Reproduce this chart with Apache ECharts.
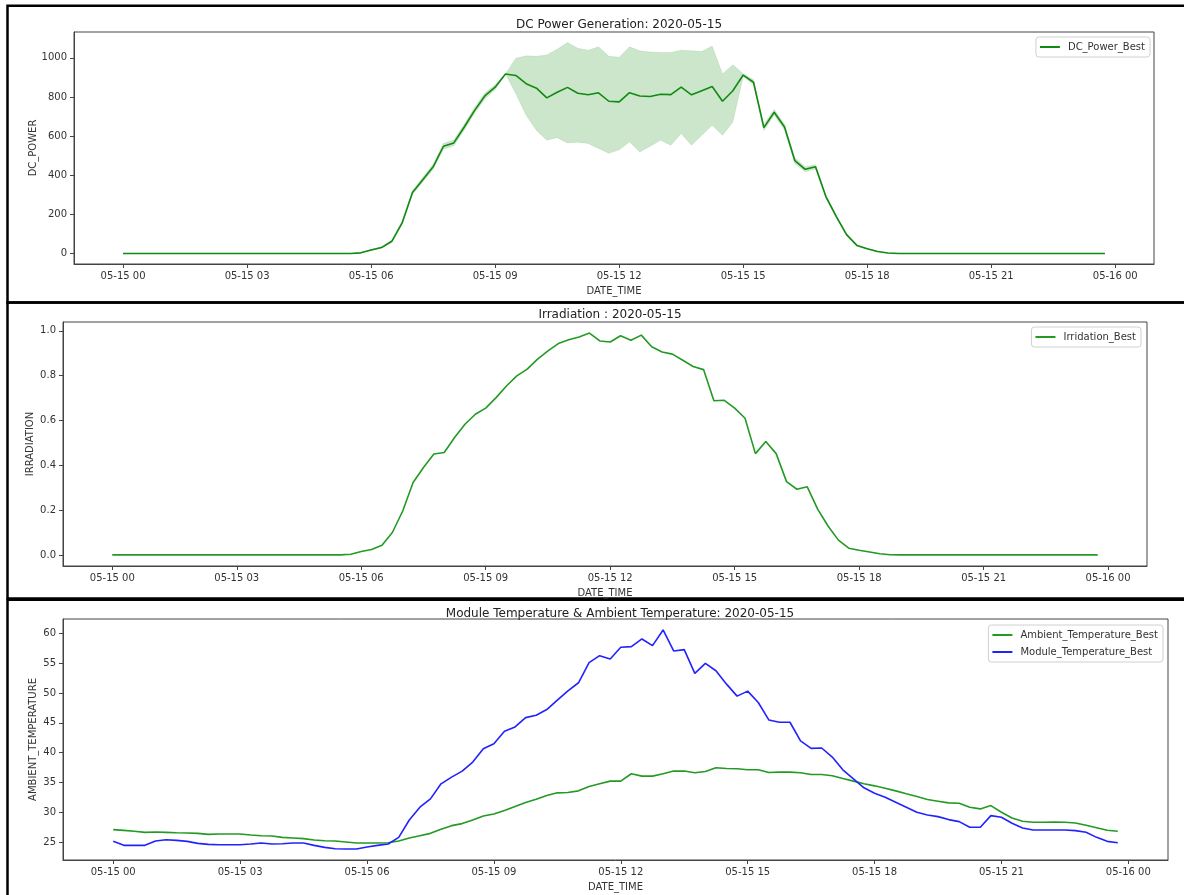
<!DOCTYPE html>
<html><head><meta charset="utf-8">
<script src="https://cdn.jsdelivr.net/npm/echarts@6/dist/echarts.min.js"></script>
<style>html,body{margin:0;padding:0;background:#fff}#c{width:1184px;height:895px}</style>
</head><body><div id="c"></div>
<script>
// ---- data ----
const hours = [0,0.25,0.5,0.75,1,1.25,1.5,1.75,2,2.25,2.5,2.75,3,3.25,3.5,3.75,4,4.25,4.5,4.75,5,5.25,5.5,5.75,6,6.25,6.5,6.75,7,7.25,7.5,7.75,8,8.25,8.5,8.75,9,9.25,9.5,9.75,10,10.25,10.5,10.75,11,11.25,11.5,11.75,12,12.25,12.5,12.75,13,13.25,13.5,13.75,14,14.25,14.5,14.75,15,15.25,15.5,15.75,16,16.25,16.5,16.75,17,17.25,17.5,17.75,18,18.25,18.5,18.75,19,19.25,19.5,19.75,20,20.25,20.5,20.75,21,21.25,21.5,21.75,22,22.25,22.5,22.75,23,23.25,23.5,23.75];

const dcMean = [0,0,0,0,0,0,0,0,0,0, 0,0,0,0,0,0,0,0,0,0, 0,0,0,3,18,30,62,156,311,377, 443,548,565,645,730,805,850,917,910,868, 845,795,824,849,819,811,821,778,775,822, 805,802,814,812,850,811,832,853,778,832, 912,875,643,722,646,474,430,443,291,190, 96,41,24,10,2,0,0,0,0,0, 0,0,0,0,0,0,0,0,0,0, 0,0,0,0,0,0];
const dcLow = [0,0,0,0,0,0,0,0,0,0, 0,0,0,0,0,0,0,0,0,0, 0,0,0,2,15,26,56,148,301,365, 431,533,550,630,715,790,838,917,816,706, 629,579,592,565,569,562,537,512,530,570, 519,548,579,553,613,553,604,655,604,672, 905,862,628,707,631,460,417,432,282,183, 91,38,22,9,2,0,0,0,0,0, 0,0,0,0,0,0,0,0,0,0, 0,0,0,0,0,0];
const dcHigh = [0,0,0,0,0,0,0,0,0,0, 0,0,0,0,0,0,0,0,0,0, 0,0,0,4,21,34,68,164,321,389, 455,563,580,660,745,820,862,917,998,1010, 1008,1015,1044,1078,1049,1039,1056,1008,1003,1056, 1036,1030,1027,1027,1039,1036,1032,1060,917,964, 919,888,658,737,661,488,443,454,300,197, 101,44,26,11,2,0,0,0,0,0, 0,0,0,0,0,0,0,0,0,0, 0,0,0,0,0,0];
const irradiation = [0,0,0,0,0,0,0,0,0,0, 0,0,0,0,0,0,0,0,0,0, 0,0,0,0.003,0.015,0.024,0.043,0.10,0.196,0.323, 0.39,0.45,0.457,0.524,0.583,0.628,0.655,0.702,0.754,0.799, 0.829,0.874,0.911,0.943,0.96,0.973,0.99,0.955,0.95,0.978, 0.958,0.981,0.929,0.906,0.896,0.869,0.841,0.827,0.688,0.69, 0.655,0.61,0.452,0.506,0.452,0.327,0.293,0.304,0.204,0.129, 0.066,0.03,0.021,0.013,0.005,0.001,0,0,0,0, 0,0,0,0,0,0,0,0,0,0, 0,0,0,0,0,0];
const ambientTemp = [27.13,27.0,26.85,26.68,26.74,26.68,26.62,26.57,26.51,26.34, 26.4,26.4,26.4,26.23,26.12,26.06,25.84,25.73,25.62,25.39, 25.28,25.22,25.06,24.89,24.89,24.89,24.94,25.22,25.73,26.12, 26.51,27.18,27.8,28.14,28.75,29.42,29.76,30.32,30.99,31.66, 32.22,32.84,33.29,33.34,33.62,34.35,34.8,35.25,35.25,36.48, 36.09,36.09,36.48,36.93,36.93,36.65,36.87,37.49,37.37,37.32, 37.15,37.15,36.7,36.76,36.76,36.65,36.37,36.37,36.14,35.69, 35.25,34.8,34.46,34.07,33.62,33.12,32.67,32.17,31.89,31.61, 31.55,30.88,30.6,31.16,30.04,29.09,28.53,28.36,28.36,28.42, 28.36,28.25,27.86,27.46,27.02,26.85];
const moduleTemp = [25.17,24.5,24.5,24.5,25.22,25.45,25.34,25.17,24.83,24.66, 24.61,24.61,24.61,24.72,24.89,24.72,24.78,24.89,24.89,24.5, 24.16,23.94,23.88,23.88,24.22,24.5,24.72,25.84,28.75,30.88, 32.28,34.8,35.92,36.93,38.44,40.68,41.52,43.59,44.32,45.88, 46.28,47.23,48.8,50.36,51.71,55.07,56.24,55.68,57.64,57.75, 59.04,57.92,60.55,57.03,57.25,53.28,54.96,53.72,51.48,49.47, 50.31,48.4,45.49,45.1,45.1,41.97,40.73,40.79,39.28,37.15, 35.64,34.13,33.23,32.56,31.72,30.88,30.04,29.59,29.31,28.81, 28.47,27.52,27.52,29.48,29.2,28.19,27.41,27.07,27.07,27.07, 27.07,26.96,26.68,25.84,25.17,24.94];

const xTickValues = [0,3,6,9,12,15,18,21,24];
const xTickLabels = ["05-15 00","05-15 03","05-15 06","05-15 09","05-15 12","05-15 15","05-15 18","05-15 21","05-16 00"];
const dcTickValues = [0,200,400,600,800,1000];
const dcTickLabels = ["0","200","400","600","800","1000"];
const irrTickValues = [0,0.2,0.4,0.6,0.8,1.0];
const irrTickLabels = ["0.0","0.2","0.4","0.6","0.8","1.0"];
const tempTickValues = [25,30,35,40,45,50,55,60];
const tempTickLabels = ["25","30","35","40","45","50","55","60"];

const titles = ["DC Power Generation: 2020-05-15","Irradiation : 2020-05-15","Module Temperature & Ambient Temperature: 2020-05-15"];

// ---- chart ----
const FF = 'DejaVu Sans';
const AX = '#444';
const TXT = '#333';
const pairs = (xs, ys) => xs.map((x, i) => [x, ys[i]]);
const labelOf = (vals, labs) => v => { const k = vals.findIndex(t => Math.abs(t - v) < 1e-9); return k < 0 ? '' : labs[k]; };

const grids = [
  {left: 74, top: 32, width: 1080, height: 232},
  {left: 63, top: 322, width: 1084, height: 244},
  {left: 63, top: 619, width: 1105, height: 241}
];
const yRanges = [[-54, 1132], [-0.0495, 1.0395], [22.05, 62.38]];
const yTicks = [[dcTickValues, dcTickLabels], [irrTickValues, irrTickLabels], [tempTickValues, tempTickLabels]];
const yNames = ["DC_POWER", "IRRADIATION", "AMBIENT_TEMPERATURE"];
const yNameGaps = [36, 28, 25];

function xAxisFor(i) {
  return {
    type: 'value', gridIndex: i, min: -1.1875, max: 24.9375,
    name: 'DATE_TIME', nameLocation: 'middle', nameGap: 22, nameMoveOverlap: false,
    nameTextStyle: {fontSize: 10, color: TXT, fontFamily: FF},
    axisLine: {show: true, onZero: false, lineStyle: {color: AX, width: 1}},
    splitLine: {show: false},
    axisTick: {show: true, inside: false, length: 4, lineStyle: {color: AX}, customValues: xTickValues},
    axisLabel: {show: true, margin: 7, fontSize: 10, color: TXT, fontFamily: FF, customValues: xTickValues,
      formatter: labelOf(xTickValues, xTickLabels)}
  };
}
function yAxisFor(i) {
  const [vals, labs] = yTicks[i];
  return {
    type: 'value', gridIndex: i, min: yRanges[i][0], max: yRanges[i][1],
    name: yNames[i], nameLocation: 'middle', nameGap: yNameGaps[i], nameRotate: 90, nameMoveOverlap: false,
    nameTextStyle: {fontSize: 10, color: TXT, fontFamily: FF},
    axisLine: {show: true, onZero: false, lineStyle: {color: AX, width: 1}},
    splitLine: {show: false},
    axisTick: {show: true, inside: false, length: 4, lineStyle: {color: AX}, customValues: vals},
    axisLabel: {show: true, margin: 7, fontSize: 10, color: TXT, fontFamily: FF, customValues: vals,
      formatter: labelOf(vals, labs)}
  };
}
const legendBase = {
  icon: 'rect', itemWidth: 20, itemHeight: 2, orient: 'vertical', itemGap: 5,
  padding: [4, 5, 4, 4], borderColor: '#d0d0d0', borderWidth: 1, borderRadius: 3,
  backgroundColor: 'rgba(255,255,255,0.8)',
  textStyle: {fontSize: 10, color: TXT, fontFamily: FF, lineHeight: 12, padding: [0, 0, 0, 3]}
};
const lineBase = {type: 'line', symbol: 'none', showSymbol: false, animation: false};

// confidence band drawn as one polygon through the axis scales
function renderBand(params, api) {
  if (params.dataIndex !== 0) return null;
  const pts = [];
  for (let i = 0; i < hours.length; i++) pts.push(api.coord([hours[i], dcHigh[i]]));
  for (let i = hours.length - 1; i >= 0; i--) pts.push(api.coord([hours[i], dcLow[i]]));
  return {type: 'polygon', shape: {points: pts}, style: {fill: 'rgba(0,128,0,0.2)', stroke: 'rgba(0,128,0,0.12)', lineWidth: 0.8}, silent: true};
}

const option = {
  animation: false,
  backgroundColor: '#fff',
  title: [
    {text: titles[0], left: 614, top: 14, textAlign: 'center', textStyle: {fontSize: 12, fontWeight: 'normal', color: '#222', fontFamily: FF}},
    {text: titles[1], left: 605, top: 304, textAlign: 'center', textStyle: {fontSize: 12, fontWeight: 'normal', color: '#222', fontFamily: FF}},
    {text: titles[2], left: 615, top: 603, textAlign: 'center', textStyle: {fontSize: 12, fontWeight: 'normal', color: '#222', fontFamily: FF}}
  ],
  grid: grids.map(g => Object.assign({show: true, borderColor: AX, borderWidth: 1, backgroundColor: 'transparent', containLabel: false}, g)),
  xAxis: [0, 1, 2].map(xAxisFor),
  yAxis: [0, 1, 2].map(yAxisFor),
  legend: [
    Object.assign({}, legendBase, {data: ['DC_Power_Best'], right: 34, top: 37}),
    Object.assign({}, legendBase, {data: ['Irridation_Best'], right: 43, top: 327}),
    Object.assign({}, legendBase, {data: ['Ambient_Temperature_Best', 'Module_Temperature_Best'], right: 21, top: 625})
  ],
  graphic: [
    {type: 'rect', shape: {x: 7.5, y: 5.8, width: 1200, height: 296.7}, style: {fill: null, stroke: '#000', lineWidth: 2.5}, silent: true},
    {type: 'rect', shape: {x: 7.5, y: 302.5, width: 1200, height: 296}, style: {fill: null, stroke: '#000', lineWidth: 2.5}, silent: true},
    {type: 'rect', shape: {x: 7.5, y: 599.8, width: 1200, height: 310}, style: {fill: null, stroke: '#000', lineWidth: 2.5}, silent: true}
  ],
  series: [
    {type: 'custom', name: 'dcBand', xAxisIndex: 0, yAxisIndex: 0, renderItem: renderBand,
      data: hours.map((h, i) => [h, dcLow[i], dcHigh[i]]), encode: {x: 0, y: [1, 2]}, silent: true, z: 1},
    Object.assign({}, lineBase, {name: 'DC_Power_Best', xAxisIndex: 0, yAxisIndex: 0, data: pairs(hours, dcMean), z: 3,
      lineStyle: {color: '#118a11', width: 1.6}, itemStyle: {color: '#118a11'}}),
    Object.assign({}, lineBase, {name: 'Irridation_Best', xAxisIndex: 1, yAxisIndex: 1, data: pairs(hours, irradiation),
      lineStyle: {color: '#239a23', width: 1.6}, itemStyle: {color: '#239a23'}}),
    Object.assign({}, lineBase, {name: 'Ambient_Temperature_Best', xAxisIndex: 2, yAxisIndex: 2, data: pairs(hours, ambientTemp),
      lineStyle: {color: '#239a23', width: 1.6}, itemStyle: {color: '#239a23'}}),
    Object.assign({}, lineBase, {name: 'Module_Temperature_Best', xAxisIndex: 2, yAxisIndex: 2, data: pairs(hours, moduleTemp),
      lineStyle: {color: '#2222ff', width: 1.6}, itemStyle: {color: '#2222ff'}})
  ]
};
const chart = echarts.init(document.getElementById('c'), null, {renderer: 'canvas', width: 1184, height: 895});
chart.setOption(option);
</script>
</body></html>
